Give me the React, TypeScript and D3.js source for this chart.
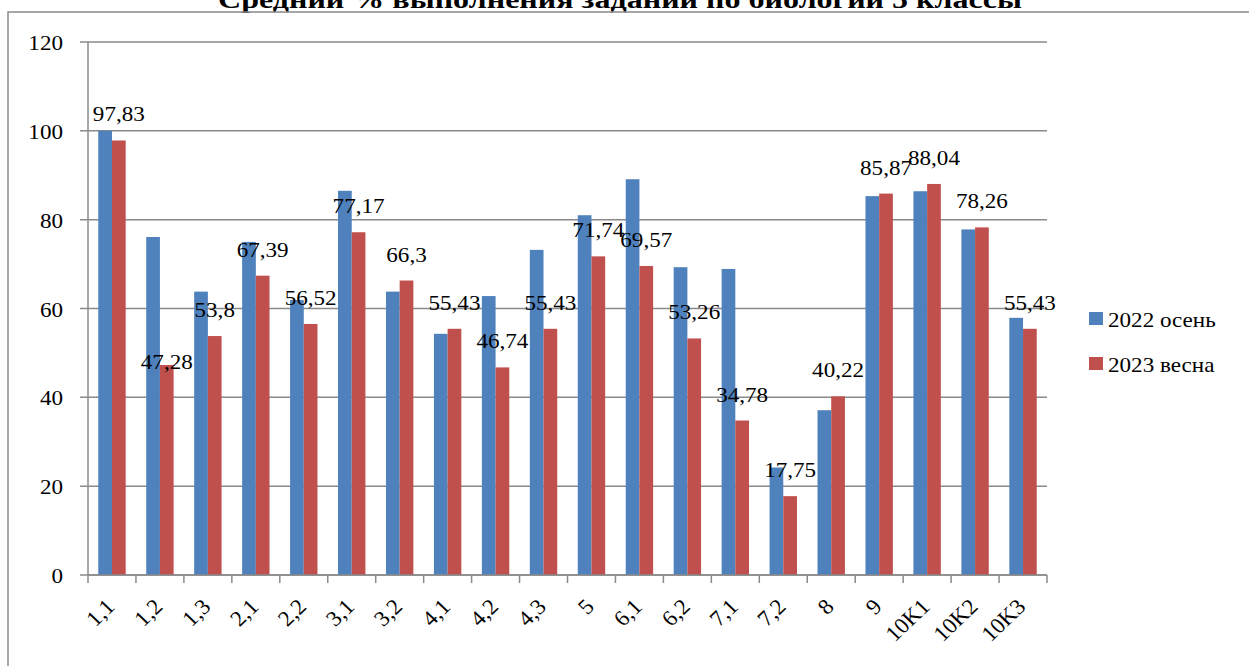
import React from "react";
import * as d3 from "d3";

const categories = ["1,1","1,2","1,3","2,1","2,2","3,1","3,2","4,1","4,2","4,3","5","6,1","6,2","7,1","7,2","8","9","10K1","10K2","10K3"];
const autumn2022 = [100, 76.09, 63.8, 75.0, 61.9, 86.5, 63.8, 54.3, 62.8, 73.2, 81.0, 89.1, 69.3, 68.9, 24.2, 37.1, 85.3, 86.4, 77.8, 57.9];
const spring2023 = [97.83, 47.28, 53.8, 67.39, 56.52, 77.17, 66.3, 55.43, 46.74, 55.43, 71.74, 69.57, 53.26, 34.78, 17.75, 40.22, 85.87, 88.04, 78.26, 55.43];
const seriesNames = ["2022 осень", "2023 весна"];
const yTicks = [0, 20, 40, 60, 80, 100, 120];
const title = "Средний % выполнения заданий по биологии 5 классы";

const W = 1249, H = 666;
const left = 88, right = 1047, top = 42, bottom = 575;
const colors = ["#4F81BD", "#C0504D"];
const grid = "#8a8a8a";
const font = '"Liberation Serif", Tinos, "Noto Serif", "Times New Roman", Times, "DejaVu Serif", serif';
const FS = 22;
const SX = 1.05;
// manual nudge of one data label (px, downward), as in the original
const labelNudge: Record<string, number> = { "1,2": 23 };

const T = (props: any) => <text {...props} style={{ fontFamily: font }} />;

export default function App() {
  const x = d3.scaleBand<string>().domain(categories).range([left, right]).paddingInner(0).paddingOuter(0);
  const y = d3.scaleLinear().domain([0, 120]).range([bottom, top]);
  const bw = x.bandwidth();
  const barW = bw / 3.5;
  const off = (bw - 2 * barW) / 2;
  const series = [autumn2022, spring2023];
  const boundaries = d3.range(categories.length + 1).map((i) => left + i * bw);

  return (
    <svg width={W} height={H} style={{ position: "absolute", left: 0, top: 0, background: "#fff", fontFamily: font }}>
      <rect x={0} y={0} width={W} height={H} fill="#fff" />
      <T x={620} y={8} textAnchor="middle" fontWeight="bold" fontSize={26} textLength={804} lengthAdjust="spacingAndGlyphs" fill="#000">{title}</T>
      <rect x={8} y={12} width={W + 20} height={H + 20} fill="none" stroke={grid} strokeWidth={1.5} />
      {yTicks.map((t) => (
        <g key={t}>
          <line x1={left - 8} x2={right} y1={y(t)} y2={y(t)} stroke={grid} strokeWidth={1.5} />
          <T transform={`translate(63,${y(t) + 8}) scale(${SX},1)`} textAnchor="end" fontSize={FS} fill="#000">{t}</T>
        </g>
      ))}
      <line x1={left} x2={left} y1={top} y2={bottom} stroke={grid} strokeWidth={1.5} />
      {boundaries.map((bx, i) => (
        <line key={i} x1={bx} x2={bx} y1={bottom} y2={bottom + 8} stroke={grid} strokeWidth={1.5} />
      ))}
      {series.map((vals, si) =>
        vals.map((v, i) => (
          <rect key={`${si}-${i}`} x={(x(categories[i]) as number) + off + si * barW} y={y(v)} width={barW} height={y(0) - y(v)} fill={colors[si]} />
        ))
      )}
      <line x1={left} x2={right} y1={bottom} y2={bottom} stroke={grid} strokeWidth={1.5} />
      {spring2023.map((v, i) => {
        const cx = (x(categories[i]) as number) + off + barW * 1.5;
        const by = y(v) - 19 + (labelNudge[categories[i]] || 0);
        return (
          <T key={i} transform={`translate(${cx},${by}) scale(${SX},1)`} textAnchor="middle" fontSize={FS} fill="#000">
            {String(v).replace(".", ",")}
          </T>
        );
      })}
      {categories.map((c) => {
        const cx = (x(c) as number) + bw / 2 + 4;
        return (
          <T key={c} transform={`translate(${cx},608) scale(${SX},1) rotate(-45)`} textAnchor="end" fontSize={FS} fill="#000">{c}</T>
        );
      })}
      {seriesNames.map((n, i) => (
        <g key={n}>
          <rect x={1089} y={312 + i * 45} width={14} height={13} fill={colors[i]} />
          <T transform={`translate(1108,${327 + i * 45}) scale(${SX},1)`} fontSize={FS} fill="#000">{n}</T>
        </g>
      ))}
    </svg>
  );
}
